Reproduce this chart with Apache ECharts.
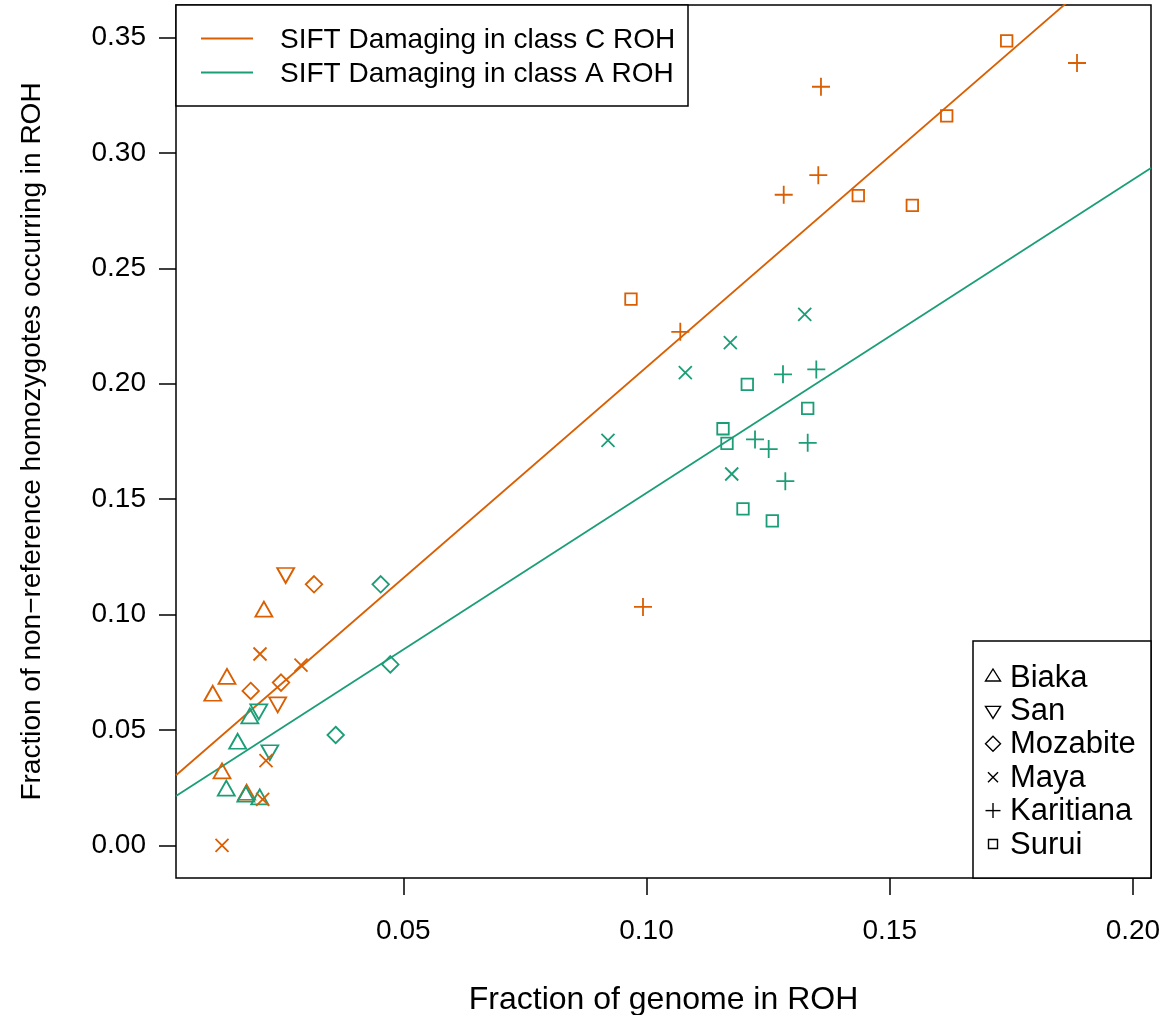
<!DOCTYPE html>
<html>
<head>
<meta charset="utf-8">
<script src="https://cdn.jsdelivr.net/npm/echarts@6/dist/echarts.min.js"></script>
<style>
  html, body { margin: 0; padding: 0; background: #fff; }
  #chart { width: 1167px; height: 1015px; }
</style>
</head>
<body>
<div id="chart"></div>
<script>
// Dark2 colours for the two ROH classes
const ORANGE = '#D95F02';
const GREEN = '#1B9E77';
const FONT = '"Liberation Sans", Arial, Helvetica, sans-serif';

const populations = ['Biaka', 'San', 'Mozabite', 'Maya', 'Karitiana', 'Surui'];
const classLabels = ['SIFT Damaging in class C ROH', 'SIFT Damaging in class A ROH'];

// [fraction of genome in ROH, fraction of non-reference homozygotes occurring in ROH]
const biakaC = [[0.01375, 0.0721], [0.01083, 0.0648], [0.01273, 0.0312], [0.01780, 0.0219], [0.02134, 0.1013]];
const biakaA = [[0.01845, 0.0550], [0.01595, 0.0440], [0.01361, 0.0237], [0.01763, 0.0211], [0.02048, 0.0199]];
const sanC = [[0.02582, 0.1180], [0.02418, 0.0619]];
const sanA = [[0.02029, 0.0589], [0.02256, 0.0412]];
const mozabiteC = [[0.03164, 0.1131], [0.01863, 0.0669], [0.02486, 0.0705]];
const mozabiteA = [[0.04535, 0.1131], [0.04733, 0.0784], [0.03610, 0.0478]];
const mayaC = [[0.02054, 0.0829], [0.02897, 0.0781], [0.02177, 0.0367], [0.02109, 0.0199], [0.01273, 0.0000]];
const mayaA = [[0.13253, 0.2301], [0.11723, 0.2178], [0.10798, 0.2048], [0.09208, 0.1755], [0.11752, 0.1609]];
const karitianaC = [[0.18851, 0.3390], [0.13587, 0.3287], [0.13532, 0.2904], [0.12821, 0.2819], [0.10695, 0.2225], [0.09928, 0.1033]];
const karitianaA = [[0.12806, 0.2041], [0.13491, 0.2062], [0.12231, 0.1759], [0.12512, 0.1717], [0.13314, 0.1744], [0.12854, 0.1578]];
const suruiC = [[0.17405, 0.3486], [0.16172, 0.3161], [0.14354, 0.2815], [0.15465, 0.2773], [0.09681, 0.2367]];
const suruiA = [[0.12072, 0.1997], [0.13314, 0.1893], [0.11573, 0.1805], [0.11655, 0.1742], [0.11984, 0.1458], [0.12586, 0.1406]];

// least-squares fits drawn across the plot
const fitC = { intercept: 0.0244, slope: 1.828 };
const fitA = { intercept: 0.0169, slope: 1.3575 };

const xTicks = [0.05, 0.10, 0.15, 0.20];
const yTicks = [0.00, 0.05, 0.10, 0.15, 0.20, 0.25, 0.30, 0.35];
const X_MIN = 0.00327, X_MAX = 0.20372;
const Y_MIN = -0.01417, Y_MAX = 0.36413;

const pointsByPop = {
  Biaka: [biakaC, biakaA],
  San: [sanC, sanA],
  Mozabite: [mozabiteC, mozabiteA],
  Maya: [mayaC, mayaA],
  Karitiana: [karitianaC, karitianaA],
  Surui: [suruiC, suruiA]
};

// plotting characters: hollow triangle, inverted triangle, diamond, cross, plus, square
const marks = {
  Biaka:     { symbol: 'path://M5,0L10,8.66L0,8.66Z', size: [17, 15], offset: [0, -2.5] },
  San:       { symbol: 'path://M0,0L10,0L5,8.66Z', size: [17, 15], offset: [0, 2.5] },
  Mozabite:  { symbol: 'path://M5,0L10,5L5,10L0,5Z', size: [16.5, 16.5], offset: [0, 0] },
  Maya:      { symbol: 'path://M0,0L10,10M10,0L0,10', size: [13, 13], offset: [0, 0] },
  Karitiana: { symbol: 'path://M5,0L5,10M0,5L10,5', size: [18, 18], offset: [0, 0] },
  Surui:     { symbol: 'path://M0,0L10,0L10,10L0,10Z', size: [11.5, 11.5], offset: [0, 0] }
};

const scatterSeries = populations.map(pop => {
  const [cPts, aPts] = pointsByPop[pop];
  const data = cPts.map(p => ({ value: p, itemStyle: { borderColor: ORANGE } }))
    .concat(aPts.map(p => ({ value: p, itemStyle: { borderColor: GREEN } })));
  return {
    name: pop,
    type: 'scatter',
    symbol: marks[pop].symbol,
    symbolSize: marks[pop].size,
    symbolOffset: marks[pop].offset,
    itemStyle: { color: 'rgba(0,0,0,0)', borderColor: '#000', borderWidth: 1.8, opacity: 1 },
    emphasis: { disabled: true },
    silent: true,
    z: 3,
    data
  };
});

function fitLine(name, fit, color) {
  return {
    name,
    type: 'line',
    data: [[X_MIN, fit.intercept + fit.slope * X_MIN], [X_MAX, fit.intercept + fit.slope * X_MAX]],
    showSymbol: false,
    symbol: 'none',
    clip: true,
    lineStyle: { color, width: 1.8 },
    emphasis: { disabled: true },
    silent: true,
    z: 2
  };
}

// legend boxes
const graphic = [];
const keyStroke = { stroke: '#000', lineWidth: 1.4, fill: 'none' };
const topBox = { x: 176, y: 5, w: 512, h: 101 };
graphic.push({ type: 'rect', z: 50, shape: { x: topBox.x, y: topBox.y, width: topBox.w, height: topBox.h },
  style: { fill: '#fff', stroke: '#000', lineWidth: 1.5 } });
[ORANGE, GREEN].forEach((c, i) => {
  const y = 38.5 + i * 34;
  graphic.push({ type: 'line', z: 51, shape: { x1: 201, y1: y, x2: 253, y2: y }, style: { stroke: c, lineWidth: 1.8 } });
  graphic.push({ type: 'text', z: 51, x: 280, y: y + 1.5,
    style: { text: classLabels[i], font: '28px ' + FONT, fill: '#000', verticalAlign: 'middle', align: 'left' } });
});

const popBox = { x: 973, y: 641, w: 178, h: 237 };
graphic.push({ type: 'rect', z: 50, shape: { x: popBox.x, y: popBox.y, width: popBox.w, height: popBox.h },
  style: { fill: '#fff', stroke: '#000', lineWidth: 1.5 } });
const seg = (x1, y1, x2, y2) => ({ type: 'line', z: 51, shape: { x1, y1, x2, y2 }, style: { ...keyStroke } });
const keyShapes = {
  Biaka: cy => [{ type: 'polygon', shape: { points: [[993, cy - 8], [1000.5, cy + 4], [985.5, cy + 4]] } }],
  San: cy => [{ type: 'polygon', shape: { points: [[985.5, cy - 4], [1000.5, cy - 4], [993, cy + 8]] } }],
  Mozabite: cy => [{ type: 'polygon', shape: { points: [[993, cy - 7.5], [1000.5, cy], [993, cy + 7.5], [985.5, cy]] } }],
  Maya: cy => [seg(988, cy - 5, 998, cy + 5), seg(998, cy - 5, 988, cy + 5)],
  Karitiana: cy => [seg(993, cy - 7.5, 993, cy + 7.5), seg(985.5, cy, 1000.5, cy)],
  Surui: cy => [{ type: 'rect', shape: { x: 988.5, y: cy - 4.5, width: 9, height: 9 } }]
};
populations.forEach((pop, i) => {
  const cy = 677 + i * 33.4;
  keyShapes[pop](cy).forEach(el => {
    el.z = 51;
    el.style = { ...keyStroke };
    graphic.push(el);
  });
  graphic.push({ type: 'text', z: 51, x: 1010, y: cy + 1,
    style: { text: pop, font: '31px ' + FONT, fill: '#000', verticalAlign: 'middle', align: 'left' } });
});

const axisText = { fontSize: 28, fontFamily: FONT, color: '#000' };

const chart = echarts.init(document.getElementById('chart'), null, { renderer: 'canvas' });
chart.setOption({
  animation: false,
  backgroundColor: '#fff',
  grid: { left: 176, right: 16, top: 5, bottom: 137, show: true, borderColor: '#000', borderWidth: 1.5,
          backgroundColor: 'rgba(0,0,0,0)', containLabel: false, outerBoundsMode: 'none' },
  xAxis: {
    type: 'value', min: X_MIN, max: X_MAX,
    axisLine: { show: false, onZero: false },
    splitLine: { show: false },
    axisTick: { show: true, inside: false, length: 17, customValues: xTicks, lineStyle: { color: '#000', width: 1.5 } },
    axisLabel: { customValues: xTicks, formatter: v => v.toFixed(2), margin: 39, ...axisText },
    name: 'Fraction of genome in ROH',
    nameLocation: 'middle', nameGap: 106,
    nameTextStyle: { ...axisText, fontSize: 32 }
  },
  yAxis: {
    type: 'value', min: Y_MIN, max: Y_MAX,
    axisLine: { show: false, onZero: false },
    splitLine: { show: false },
    axisTick: { show: true, inside: false, length: 17, customValues: yTicks, lineStyle: { color: '#000', width: 1.5 } },
    axisLabel: { customValues: yTicks, formatter: v => v.toFixed(2), margin: 30, padding: [4, 0, 0, 0], ...axisText },
    name: 'Fraction of non\u2212reference homozygotes occurring in ROH',
    nameLocation: 'middle', nameGap: 130, nameRotate: 90,
    nameTextStyle: { ...axisText }
  },
  series: [fitLine(classLabels[0], fitC, ORANGE), fitLine(classLabels[1], fitA, GREEN)].concat(scatterSeries),
  graphic
});
</script>
</body>
</html>
